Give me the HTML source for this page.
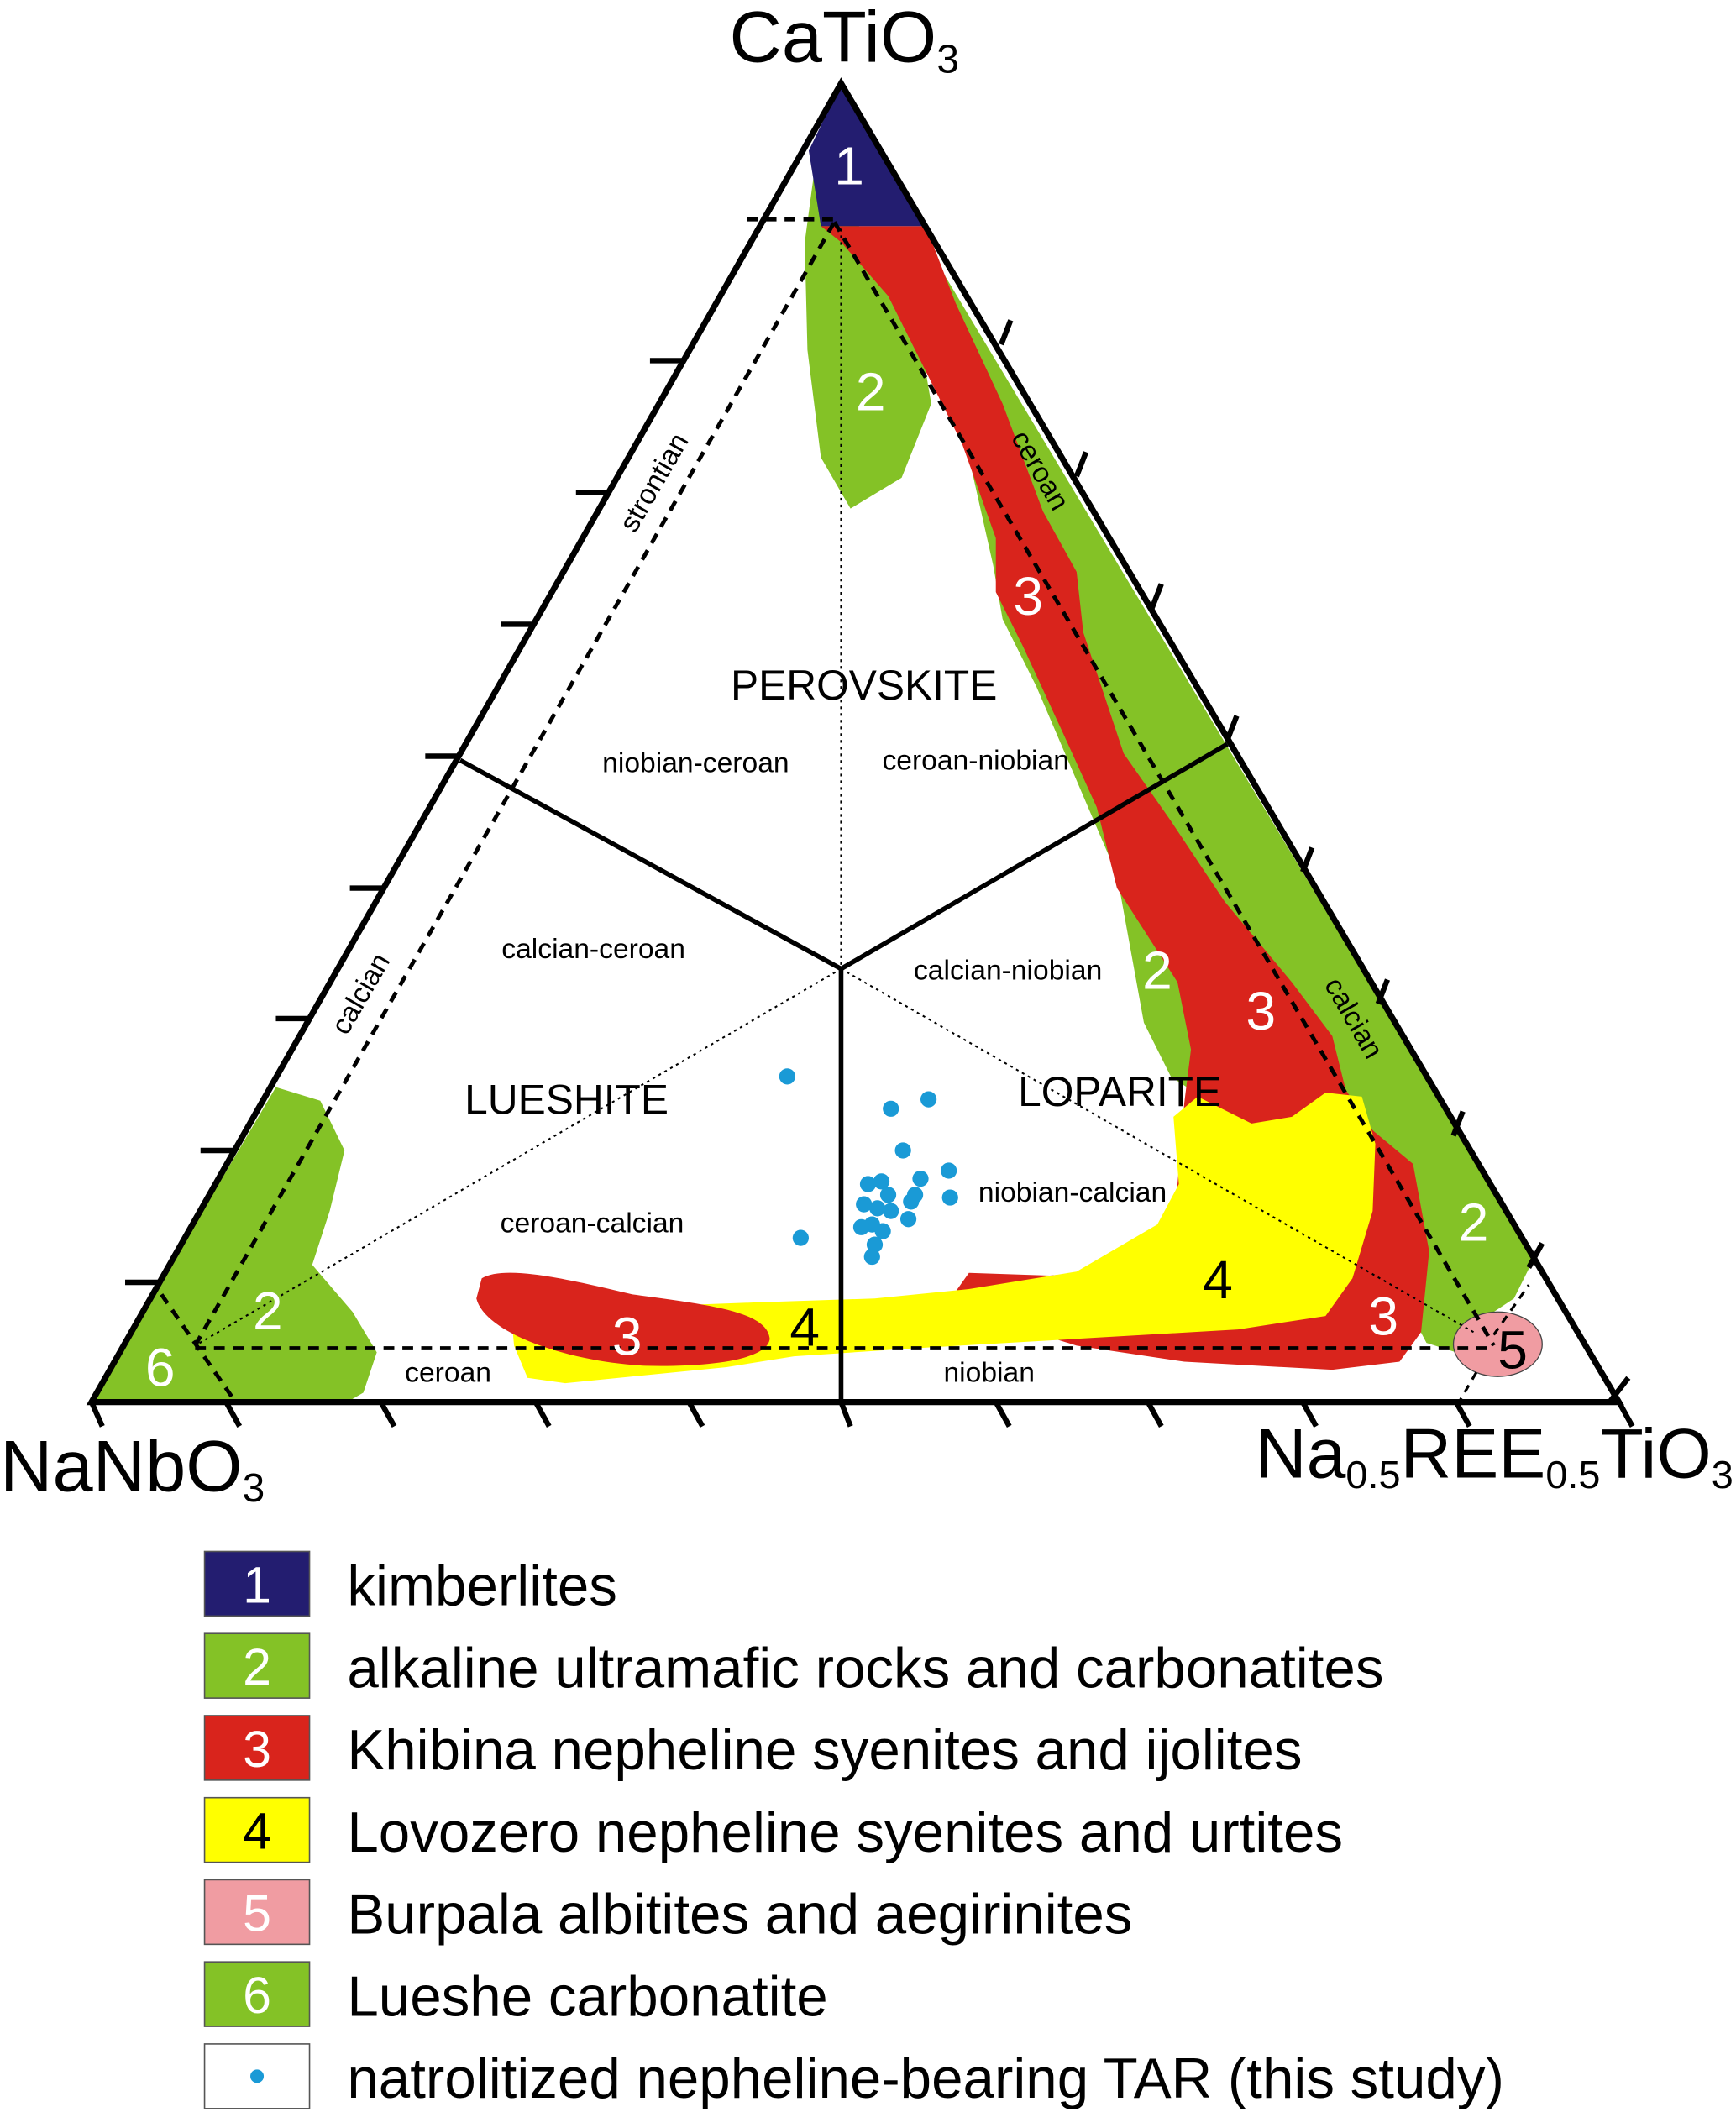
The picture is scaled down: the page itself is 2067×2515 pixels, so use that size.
<!DOCTYPE html>
<html><head><meta charset="utf-8"><style>
html,body{margin:0;padding:0;background:#fff;}
svg{display:block}
text{font-family:"Liberation Sans",Arial,sans-serif;}
</style></head><body>
<svg width="2067" height="2515" viewBox="0 0 1290 1569.6" preserveAspectRatio="none" xmlns="http://www.w3.org/2000/svg">
<path d="M680,168 L1140,935 L1125,965 L1095,985 L1082,1005 L1060,998 L1040,960 L1050,880 L1010,840 L960,830 L900,820 L870,800 L850,760 L830,650 L800,580 L770,510 L745,460 L738,420 L720,340 L700,260 L680,185 Z" fill="#84c226"/>
<path d="M605,128 L640,170 L680,230 L692,300 L670,355 L632,378 L610,340 L600,260 L598,180 Z" fill="#84c226"/>
<path d="M68,1040 L205,808 L238,818 L256,855 L245,900 L232,940 L262,975 L280,1005 L270,1035 L258,1042 Z" fill="#84c226"/>
<path d="M610,168 L688,168 L710,225 L745,300 L775,380 L800,425 L805,470 L835,560 L870,610 L910,670 L960,730 L990,770 L1000,810 L1020,840 L1050,865 L1062,930 L1056,990 L1040,1012 L990,1018 L880,1012 L800,1000 L735,980 L710,960 L720,946 L780,948 L870,940 L880,820 L885,780 L875,730 L830,660 L815,600 L790,545 L760,480 L740,440 L740,400 L715,330 L690,280 L660,220 L625,180 Z" fill="#d9241c"/>
<path d="M380,978 L450,972 L560,968 L650,965 L720,958 L800,945 L860,910 L876,880 L872,830 L890,815 L930,835 L960,830 L985,812 L1012,815 L1022,850 L1020,900 L1005,950 L985,978 L920,988 L800,995 L680,1002 L590,1008 L540,1016 L420,1028 L392,1024 L382,1000 Z" fill="#ffff00"/>
<path d="M358,950 C375,940 420,950 470,962 C530,970 570,975 572,995 C570,1012 520,1016 480,1015 C420,1012 360,990 354,965 Z" fill="#d9241c"/>
<path d="M625,62 L601,112 L610,168 L688,168 Z" fill="#231d70"/>
<ellipse cx="1113" cy="999" rx="33" ry="24" fill="#f09ca2" stroke="#444" stroke-width="0.8"/>
<g stroke="#000" stroke-width="1.3" stroke-dasharray="2,3" fill="none">
<line x1="625" y1="170" x2="625" y2="720"/>
<line x1="625" y1="720" x2="145" y2="1000"/>
<line x1="625" y1="720" x2="1095" y2="990"/>
</g>
<g stroke="#000" stroke-width="3" stroke-dasharray="8,6" fill="none">
<line x1="555" y1="163" x2="620" y2="163"/>
<line x1="145" y1="1000" x2="620" y2="165"/>
<line x1="620" y1="165" x2="1110" y2="1000"/>
<line x1="145" y1="1002" x2="1110" y2="1002"/>
<line x1="120" y1="962" x2="175" y2="1042"/>
</g>
<g stroke="#000" stroke-width="2" stroke-dasharray="6,5" fill="none">
<line x1="1110" y1="992" x2="1136" y2="955"/>
<line x1="1097" y1="1020" x2="1083" y2="1044"/>
</g>
<g stroke="#000" stroke-width="3.5" fill="none">
<polyline points="342,565 625,720 912,553"/>
<line x1="625" y1="720" x2="625" y2="1042"/>
</g>
<path d="M625,62 L68,1042 L1203,1042 Z" fill="none" stroke="#000" stroke-width="4.5" stroke-linejoin="miter"/>
<g stroke="#000" stroke-width="4">
<line x1="483" y1="268" x2="508" y2="268"/>
<line x1="428" y1="366" x2="453" y2="366"/>
<line x1="372" y1="464" x2="397" y2="464"/>
<line x1="316" y1="562" x2="341" y2="562"/>
<line x1="260" y1="660" x2="285" y2="660"/>
<line x1="205" y1="757" x2="230" y2="757"/>
<line x1="149" y1="855" x2="174" y2="855"/>
<line x1="93" y1="953" x2="118" y2="953"/>
<line x1="744" y1="256" x2="751" y2="238"/>
<line x1="800" y1="354" x2="807" y2="336"/>
<line x1="856" y1="452" x2="863" y2="434"/>
<line x1="912" y1="550" x2="919" y2="532"/>
<line x1="968" y1="648" x2="975" y2="630"/>
<line x1="1024" y1="746" x2="1031" y2="728"/>
<line x1="1080" y1="844" x2="1087" y2="826"/>
<line x1="1136" y1="942" x2="1146" y2="924"/>
<line x1="1196" y1="1042" x2="1210" y2="1024"/>
<line x1="68" y1="1042" x2="76" y2="1060"/>
<line x1="168" y1="1042" x2="178" y2="1060"/>
<line x1="283" y1="1042" x2="293" y2="1060"/>
<line x1="398" y1="1042" x2="408" y2="1060"/>
<line x1="512" y1="1042" x2="522" y2="1060"/>
<line x1="625" y1="1042" x2="632" y2="1060"/>
<line x1="740" y1="1042" x2="750" y2="1060"/>
<line x1="853" y1="1042" x2="863" y2="1060"/>
<line x1="968" y1="1042" x2="978" y2="1060"/>
<line x1="1082" y1="1042" x2="1092" y2="1060"/>
<line x1="1203" y1="1042" x2="1213" y2="1060"/>
</g>
<g fill="#1a9ad6">
<circle cx="585" cy="800" r="6"/><circle cx="595" cy="920" r="6"/>
<circle cx="662" cy="824" r="6"/><circle cx="690" cy="817" r="6"/>
<circle cx="671" cy="855" r="6"/><circle cx="684" cy="876" r="6"/>
<circle cx="705" cy="870" r="6"/><circle cx="706" cy="890" r="6"/>
<circle cx="645" cy="880" r="6"/><circle cx="655" cy="878" r="6"/><circle cx="660" cy="888" r="6"/>
<circle cx="642" cy="895" r="6"/><circle cx="652" cy="898" r="6"/><circle cx="648" cy="910" r="6"/>
<circle cx="640" cy="912" r="6"/><circle cx="656" cy="915" r="6"/><circle cx="650" cy="925" r="6"/>
<circle cx="648" cy="934" r="6"/><circle cx="677" cy="893" r="6"/><circle cx="675" cy="906" r="6"/>
<circle cx="680" cy="888" r="6"/><circle cx="662" cy="900" r="6"/>
</g>
<g font-size="40" fill="#fff" text-anchor="middle">
<text x="631" y="137">1</text>
<text x="647" y="305">2</text>
<text x="764" y="457">3</text>
<text x="860" y="735">2</text>
<text x="937" y="765">3</text>
<text x="1095" y="922">2</text>
<text x="1028" y="992">3</text>
<text x="199" y="988">2</text>
<text x="119" y="1030">6</text>
<text x="466" y="1007">3</text>
</g>
<g font-size="40" fill="#000" text-anchor="middle">
<text x="905" y="965">4</text>
<text x="598" y="1000">4</text>
<text x="1124" y="1017">5</text>
</g>
<g font-size="31" fill="#000" text-anchor="middle">
<text x="642" y="520">PEROVSKITE</text>
<text x="421" y="828">LUESHITE</text>
<text x="832" y="822">LOPARITE</text>
</g>
<g font-size="21" fill="#000" text-anchor="middle">
<text x="517" y="574">niobian-ceroan</text>
<text x="725" y="572">ceroan-niobian</text>
<text x="441" y="712">calcian-ceroan</text>
<text x="749" y="728">calcian-niobian</text>
<text x="440" y="916">ceroan-calcian</text>
<text x="797" y="893">niobian-calcian</text>
<text x="333" y="1027">ceroan</text>
<text x="735" y="1027">niobian</text>
<text transform="translate(492,362) rotate(-60)">strontian</text>
<text transform="translate(274,742) rotate(-60)">calcian</text>
<text transform="translate(767,353) rotate(60)">ceroan</text>
<text transform="translate(1000,760) rotate(60)">calcian</text>
</g>
<text x="542" y="46" font-size="54">CaTiO<tspan font-size="30" dy="8">3</tspan></text>
<text x="0" y="1108" font-size="54">NaNbO<tspan font-size="30" dy="8">3</tspan></text>
<text x="933" y="1098" font-size="52" textLength="355" lengthAdjust="spacingAndGlyphs">Na<tspan font-size="29" dy="8">0.5</tspan><tspan dy="-8">REE</tspan><tspan font-size="29" dy="8">0.5</tspan><tspan dy="-8">TiO</tspan><tspan font-size="29" dy="8">3</tspan></text>
<g stroke="#555" stroke-width="1">
<rect x="152" y="1153" width="78" height="48" fill="#231d70"/>
<rect x="152" y="1214" width="78" height="48" fill="#84c226"/>
<rect x="152" y="1275" width="78" height="48" fill="#d9241c"/>
<rect x="152" y="1336" width="78" height="48" fill="#ffff00"/>
<rect x="152" y="1397" width="78" height="48" fill="#f09ca2"/>
<rect x="152" y="1458" width="78" height="48" fill="#84c226"/>
<rect x="152" y="1519" width="78" height="48" fill="#fff"/>
</g>
<circle cx="191" cy="1543" r="5" fill="#1a9ad6"/>
<g font-size="38" fill="#fff" text-anchor="middle">
<text x="191" y="1191">1</text><text x="191" y="1252">2</text><text x="191" y="1313">3</text>
<text x="191" y="1374" fill="#000">4</text><text x="191" y="1435">5</text><text x="191" y="1496">6</text>
</g>
<g font-size="42" fill="#000">
<text x="258" y="1193">kimberlites</text>
<text x="258" y="1254">alkaline ultramafic rocks and carbonatites</text>
<text x="258" y="1315">Khibina nepheline syenites and ijolites</text>
<text x="258" y="1376">Lovozero nepheline syenites and urtites</text>
<text x="258" y="1437">Burpala albitites and aegirinites</text>
<text x="258" y="1498">Lueshe carbonatite</text>
<text x="258" y="1559">natrolitized nepheline-bearing TAR (this study)</text>
</g>
</svg>
</body></html>
